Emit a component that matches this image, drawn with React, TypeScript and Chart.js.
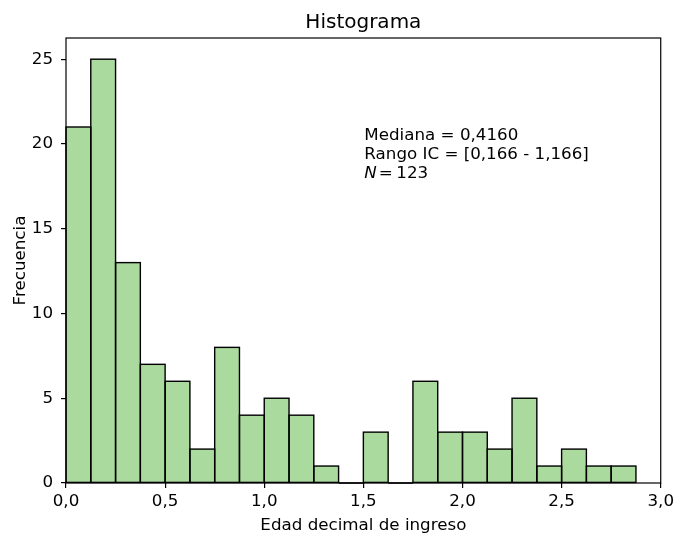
import React, { useEffect, useRef } from "react";
import { Chart, registerables } from "chart.js";

Chart.register(...registerables);

const binEdges = [0, 0.125, 0.25, 0.375, 0.5, 0.625, 0.75, 0.875, 1.0, 1.125, 1.25, 1.375, 1.5, 1.625, 1.75, 1.875, 2.0, 2.125, 2.25, 2.375, 2.5, 2.625, 2.75];
const binWidth = 0.125;
const counts = [21, 25, 13, 7, 6, 2, 8, 4, 5, 4, 1, 0, 3, 0, 6, 3, 3, 2, 5, 1, 2, 1, 1];
const xTicks = [0, 0.5, 1.0, 1.5, 2.0, 2.5, 3.0];
const yTicks = [0, 5, 10, 15, 20, 25];
const titleText = "Histograma";
const xLabel = "Edad decimal de ingreso";
const yLabel = "Frecuencia";
const annoLines = ["Mediana = 0,4160", "Rango IC = [0,166 - 1,166]"];
const nValue = "123";

const FONT = "'DejaVu Sans', sans-serif";
const FS = 16.7;

export default function App() {
  const ref = useRef<HTMLCanvasElement | null>(null);

  useEffect(() => {
    document.body.style.margin = "0";
    const canvas = ref.current;
    if (!canvas) return;

    const edgePlugin = {
      id: "edgePlugin",
      afterDatasetsDraw(chart: any) {
        const { ctx } = chart;
        const meta = chart.getDatasetMeta(0);
        ctx.save();
        ctx.strokeStyle = "#000";
        ctx.lineWidth = 1.4;
        meta.data.forEach((el: any) => {
          const { x, y, base, width } = el.getProps(["x", "y", "base", "width"], true);
          const l = x - width / 2;
          ctx.strokeRect(l, Math.min(y, base), width, Math.abs(base - y));
        });
        ctx.restore();
      },
    };

    const textPlugin = {
      id: "textPlugin",
      afterDraw(chart: any) {
        const { ctx, chartArea } = chart;
        const { left, right, top, bottom } = chartArea;
        ctx.save();
        ctx.strokeStyle = "#000";
        ctx.lineWidth = 1.2;
        ctx.strokeRect(left, top, right - left, bottom - top);
        ctx.fillStyle = "#000";
        ctx.textBaseline = "alphabetic";
        ctx.font = `20px ${FONT}`;
        ctx.textAlign = "center";
        ctx.fillText(titleText, (left + right) / 2, 28);
        ctx.font = `${FS}px ${FONT}`;
        ctx.fillText(xLabel, (left + right) / 2, 530);
        ctx.save();
        ctx.translate(25, (top + bottom) / 2);
        ctx.rotate(-Math.PI / 2);
        ctx.fillText(yLabel, 0, 0);
        ctx.restore();
        ctx.textAlign = "left";
        const ax = left + 0.5 * (right - left) + 1;
        const ay = top + 0.2 * (bottom - top);
        ctx.font = `${FS}px ${FONT}`;
        ctx.fillText(annoLines[0], ax, ay + 13);
        ctx.fillText(annoLines[1], ax, ay + 32);
        ctx.font = `italic ${FS}px ${FONT}`;
        ctx.fillText("N", ax, ay + 51);
        let nx = ax + ctx.measureText("N").width + 2;
        ctx.font = `${FS}px ${FONT}`;
        ctx.fillText("=", nx, ay + 51);
        nx += ctx.measureText("=").width + 3.5;
        ctx.fillText(nValue, nx, ay + 51);
        ctx.restore();
      },
    };

    const data = counts.map((c, i) => ({ x: binEdges[i] + binWidth / 2, y: c }));

    const chart = new Chart(canvas, {
      type: "bar",
      data: {
        datasets: [
          {
            data: data as any,
            backgroundColor: "#abda9e",
            borderWidth: 0,
            inflateAmount: 0,
            barPercentage: 1,
            categoryPercentage: 1,
          },
        ],
      },
      options: {
        animation: false,
        responsive: false,
        devicePixelRatio: 1,
        layout: { padding: { top: 38, right: 16, left: 0, bottom: 0 } },
        plugins: {
          legend: { display: false },
          tooltip: { enabled: false },
          title: { display: false },
        },
        scales: {
          x: {
            type: "linear",
            min: 0,
            max: 3,
            offset: false,
            grid: {
              display: true,
              offset: false,
              drawOnChartArea: false,
              drawTicks: true,
              tickLength: 5,
              tickColor: "#000",
              lineWidth: 1.2,
            },
            border: { display: false },
            ticks: {
              color: "#000",
              font: { family: FONT, size: FS },
              padding: 4,
              maxRotation: 0,
              autoSkip: false,
              callback: (v: any) => Number(v).toFixed(1).replace(".", ","),
            },
            afterBuildTicks: (scale: any) => {
              scale.ticks = xTicks.map((v) => ({ value: v }));
            },
            afterFit: (scale: any) => {
              scale.height = 50;
            },
          },
          y: {
            type: "linear",
            min: 0,
            max: 26.25,
            grid: {
              display: true,
              offset: false,
              drawOnChartArea: false,
              drawTicks: true,
              tickLength: 5,
              tickColor: "#000",
              lineWidth: 1.2,
            },
            border: { display: false },
            ticks: {
              color: "#000",
              font: { family: FONT, size: FS },
              padding: 8,
              autoSkip: false,
              callback: (v: any) => String(v),
            },
            afterBuildTicks: (scale: any) => {
              scale.ticks = yTicks.map((v) => ({ value: v }));
            },
            afterFit: (scale: any) => {
              scale.width = 66;
            },
          },
        },
      },
      plugins: [edgePlugin, textPlugin],
    });

    return () => chart.destroy();
  }, []);

  return (
    <div style={{ width: 678, height: 533 }}>
      <canvas ref={ref} width={678} height={533} style={{ display: "block" }} />
    </div>
  );
}
